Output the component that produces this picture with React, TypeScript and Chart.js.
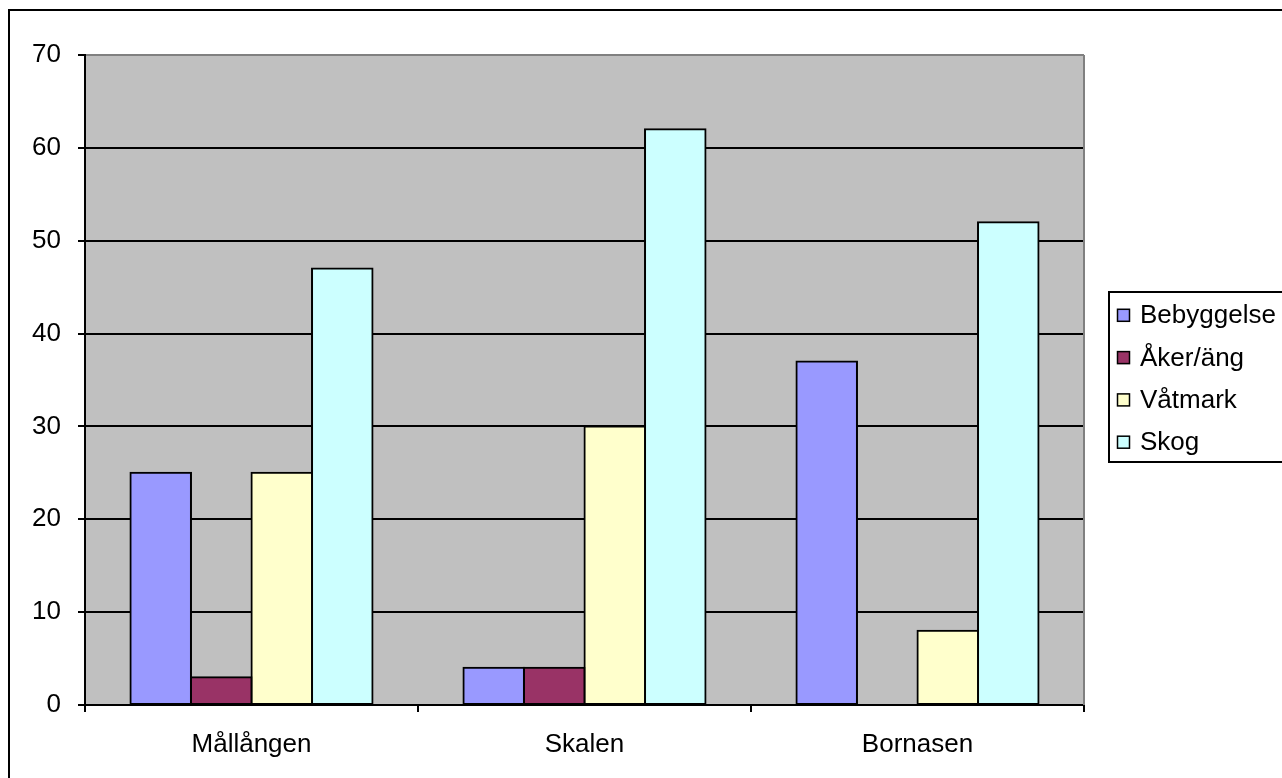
import React, { useEffect, useRef } from "react";
import { Chart, registerables } from "chart.js";

Chart.register(...registerables);

const categories = ["Mållången", "Skalen", "Bornasen"];
const seriesNames = ["Bebyggelse", "Åker/äng", "Våtmark", "Skog"];
const bebyggelse = [25, 4, 37];
const akerAng = [3, 4, 0];
const vatmark = [25, 30, 8];
const skog = [47, 62, 52];
const seriesColors = ["#9999FF", "#993366", "#FFFFCC", "#CCFFFF"];
const yTicksMax = 70;
const yTicksStep = 10;

const FONT = '"Liberation Sans", Arial, Helvetica, sans-serif';
const FONT_SIZE = 26;

const framePlugin = {
  id: "frameAndBg",
  beforeDraw(chart: any) {
    const { ctx, chartArea } = chart;
    ctx.save();
    ctx.fillStyle = "#ffffff";
    ctx.fillRect(0, 0, chart.width, chart.height);
    ctx.fillStyle = "#C0C0C0";
    ctx.fillRect(chartArea.left, chartArea.top, chartArea.right - chartArea.left, chartArea.bottom - chartArea.top);
    ctx.lineWidth = 2;
    ctx.strokeStyle = "#000000";
    ctx.strokeRect(9, 10, chart.width + 20, chart.height + 20);
    ctx.restore();
  },
  beforeDatasetsDraw(chart: any) {
    const { ctx, chartArea } = chart;
    ctx.save();
    ctx.strokeStyle = "#808080";
    ctx.lineWidth = 2;
    ctx.beginPath();
    ctx.moveTo(chartArea.right, chartArea.top);
    ctx.lineTo(chartArea.right, chartArea.bottom);
    ctx.stroke();
    ctx.restore();
  },
};

const legendPlugin = {
  id: "boxLegend",
  afterDraw(chart: any) {
    const { ctx } = chart;
    ctx.save();
    const bx = 1109;
    const by = 292;
    const bh = 170;
    ctx.fillStyle = "#ffffff";
    ctx.fillRect(bx, by, 300, bh);
    ctx.lineWidth = 2;
    ctx.strokeStyle = "#000000";
    ctx.strokeRect(bx, by, 300, bh);
    ctx.font = `${FONT_SIZE}px ${FONT}`;
    ctx.textBaseline = "middle";
    ctx.textAlign = "left";
    chart.data.datasets.forEach((ds: any, i: number) => {
      const cy = 315.3 + i * 42.3;
      ctx.fillStyle = ds.backgroundColor;
      ctx.fillRect(1117, cy - 6.5, 13, 13);
      ctx.lineWidth = 1.5;
      ctx.strokeStyle = "#000000";
      ctx.strokeRect(1117.5, cy - 6, 12, 12);
      ctx.fillStyle = "#000000";
      ctx.fillText(ds.label, 1140, cy + 1);
    });
    ctx.restore();
  },
};

export default function App() {
  const ref = useRef<HTMLCanvasElement | null>(null);

  useEffect(() => {
    if (!ref.current) return;
    const values = [bebyggelse, akerAng, vatmark, skog];
    const chart = new Chart(ref.current, {
      type: "bar",
      data: {
        labels: categories,
        datasets: seriesNames.map((name, i) => ({
          label: name,
          data: values[i],
          backgroundColor: seriesColors[i],
          borderColor: "#000000",
          borderWidth: 2,
          borderSkipped: false,
          inflateAmount: 1,
          categoryPercentage: 0.727,
          barPercentage: 1,
        })),
      },
      options: {
        animation: false,
        responsive: false,
        maintainAspectRatio: false,
        layout: { padding: { left: 0, top: 55, right: 198, bottom: 0 } },
        plugins: {
          legend: { display: false },
          tooltip: { enabled: false },
          title: { display: false },
        },
        scales: {
          x: {
            offset: true,
            grid: {
              offset: true,
              drawOnChartArea: false,
              drawTicks: true,
              tickLength: 7,
              tickColor: "#000000",
              tickWidth: 2,
              color: "#000000",
              lineWidth: 2,
            },
            border: { display: true, color: "#000000", width: 2 },
            ticks: {
              color: "#000000",
              font: { family: FONT, size: FONT_SIZE },
              padding: 17,
              maxRotation: 0,
            },
            afterFit(scale: any) {
              scale.height = 73;
            },
          },
          y: {
            min: 0,
            max: yTicksMax,
            grid: {
              drawTicks: true,
              tickLength: 7,
              tickColor: "#000000",
              tickWidth: 2,
              lineWidth: 2,
              color: (ctx: any) => (ctx.tick && ctx.tick.value === yTicksMax ? "#808080" : "#000000"),
            },
            border: { display: true, color: "#000000", width: 2 },
            ticks: {
              stepSize: yTicksStep,
              color: "#000000",
              font: { family: FONT, size: FONT_SIZE },
              padding: 17,
            },
            afterFit(scale: any) {
              scale.width = 85;
            },
          },
        },
      },
      plugins: [framePlugin, legendPlugin],
    });
    return () => chart.destroy();
  }, []);

  return (
    <div style={{ position: "fixed", left: 0, top: 0, width: 1282, height: 778, overflow: "hidden", background: "#fff" }}>
      <canvas ref={ref} width={1282} height={778} style={{ display: "block", width: 1282, height: 778 }} />
    </div>
  );
}
